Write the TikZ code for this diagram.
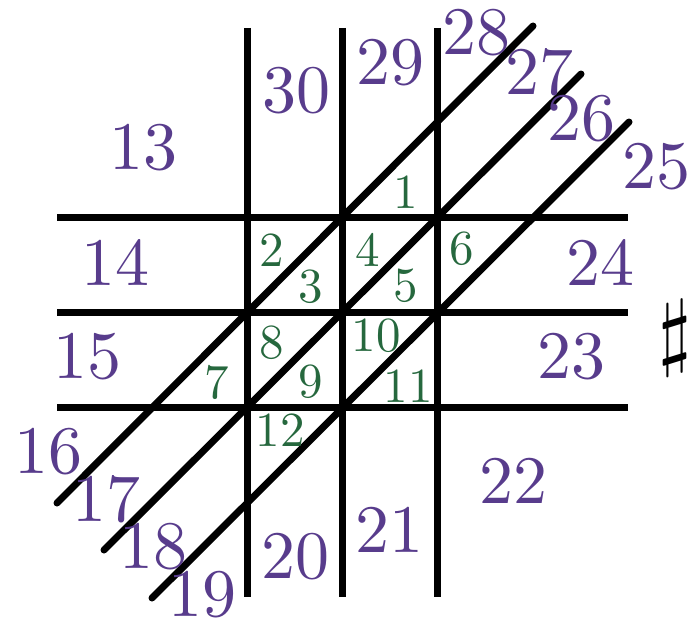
\documentclass[tikz,border=0pt]{standalone}
\usepackage{fontspec}
\usepackage{graphicx}
\newfontfamily\lmten{lmroman10-regular.otf}
\definecolor{lblpurple}{RGB}{88,60,140}
\definecolor{lblgreen}{RGB}{38,104,62}
\tikzset{
  gridline/.style={line width=7pt, line cap=butt, black},
  diagline/.style={line width=7pt, line cap=round, black},
  outer/.style={text=lblpurple, inner sep=0pt, font=\lmten\fontsize{68}{70}\selectfont},
  inner/.style={text=lblgreen, inner sep=0pt, font=\lmten\fontsize{49}{51}\selectfont},
}
\begin{document}
\begin{tikzpicture}[x=1pt,y=-1pt]
\useasboundingbox (0,0) rectangle (698,618);
% line ends
\coordinate (v1t) at (247,28);  \coordinate (v1b) at (247,597);
\coordinate (v2t) at (342,28);  \coordinate (v2b) at (342,597);
\coordinate (v3t) at (437,28);  \coordinate (v3b) at (437,597);
\coordinate (h1l) at (57,217);  \coordinate (h1r) at (628,217);
\coordinate (h2l) at (57,312);  \coordinate (h2r) at (628,312);
\coordinate (h3l) at (57,407);  \coordinate (h3r) at (628,407);
\coordinate (d1a) at (57,503);  \coordinate (d1b) at (533,26);
\coordinate (d2a) at (104,550); \coordinate (d2b) at (581,74);
\coordinate (d3a) at (152,598); \coordinate (d3b) at (629,122);
\draw[gridline] (v1t) -- (v1b);
\draw[gridline] (v2t) -- (v2b);
\draw[gridline] (v3t) -- (v3b);
\draw[gridline] (h1l) -- (h1r);
\draw[gridline] (h2l) -- (h2r);
\draw[gridline] (h3l) -- (h3r);
\draw[diagline] (d1a) -- (d1b);
\draw[diagline] (d2a) -- (d2b);
\draw[diagline] (d3a) -- (d3b);
% inner labels
\node[inner] (n1) at (406,192) {1};
\node[inner] (n2) at (272,250) {2};
\node[inner] (n3) at (311,287) {3};
\node[inner] (n4) at (368,250) {4};
\node[inner] (n5) at (406,286) {5};
\node[inner] (n6) at (462,249) {6};
\node[inner] (n7) at (217,382) {7};
\node[inner] (n8) at (272,343) {8};
\node[inner] (n9) at (311,382) {9};
\node[inner] (n10) at (376,336) {10};
\node[inner] (n11) at (408,386) {11};
\node[inner] (n12) at (280,430) {12};
% outer labels
\node[outer] (n13) at (143,148) {13};
\node[outer] (n14) at (115,262) {14};
\node[outer] (n15) at (87,357) {15};
\node[outer] (n16) at (48,452) {16};
\node[outer] (n17) at (106,499) {17};
\node[outer] (n18) at (153,547) {18};
\node[outer] (n19) at (202,595) {19};
\node[outer] (n20) at (295,557) {20};
\node[outer] (n21) at (389,530) {21};
\node[outer] (n22) at (513,481) {22};
\node[outer] (n23) at (571,357) {23};
\node[outer] (n24) at (600,262) {24};
\node[outer] (n25) at (656,167) {25};
\node[outer] (n26) at (581,119) {26};
\node[outer] (n27) at (539,72) {27};
\node[outer] (n28) at (476,33) {28};
\node[outer] (n29) at (390,63) {29};
\node[outer] (n30) at (296,91) {30};
% sharp
\node[inner sep=0pt] (sharp) at (675,338) {\scalebox{8.5}{$\sharp$}};
\end{tikzpicture}
\end{document}
